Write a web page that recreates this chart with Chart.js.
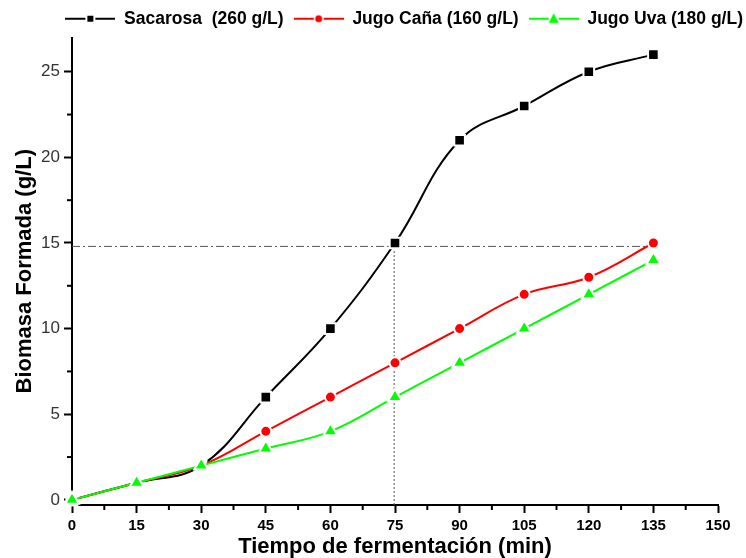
<!DOCTYPE html>
<html>
<head>
<meta charset="utf-8">
<script src="https://cdn.jsdelivr.net/npm/chart.js@4.4.0/dist/chart.umd.min.js"></script>
<style>
  body { margin: 0; background: #fff; }
  #wrap { width: 746px; height: 558px; }
</style>
</head>
<body>
<div id="wrap"><canvas id="myChart" width="746" height="558"></canvas></div>
<script>
'use strict';

// data

let times = [0, 15, 30, 45, 60, 75, 90, 105, 120, 135];
let sacarosa = [0, 1, 2, 6, 10, 15, 21, 23, 25, 26];
let jugoCana = [0, 1, 2, 4, 6, 8, 10, 12, 13, 15];
let jugoUva = [0, 1, 2, 3, 4, 6, 8, 10, 12, 14];

let seriesNames = ['Sacarosa  (260 g/L)', 'Jugo Caña (160 g/L)', 'Jugo Uva (180 g/L)'];

let xTicks = [0, 15, 30, 45, 60, 75, 90, 105, 120, 135, 150];
let xMinorTicks = [7.5, 22.5, 37.5, 52.5, 67.5, 82.5, 97.5, 112.5, 127.5, 142.5];
let yTicks = [0, 5, 10, 15, 20, 25];
let yMinorTicks = [2.5, 7.5, 12.5, 17.5, 22.5];

// dashed guide lines (data space)
let guideHx = [0, 135];
let guideHy = [14.8, 14.8];
let guideVx = [74.8, 74.8];
let guideVy = [-0.3, 15];

// helpers

function toPoints(xs, ys) {
  return xs.map((x, i) => ({ x: x, y: ys[i] }));
}

function makeIcon(color, shape) {
  let c = document.createElement('canvas');
  c.width = 50;
  c.height = 14;
  let g = c.getContext('2d');
  g.strokeStyle = color;
  g.fillStyle = color;
  g.lineWidth = 2;
  g.beginPath();
  g.moveTo(0, 7); g.lineTo(20, 7);
  g.moveTo(30, 7); g.lineTo(50, 7);
  g.stroke();
  g.beginPath();
  if (shape === 'rect') {
    g.rect(22, 4, 6, 6);
  } else if (shape === 'circle') {
    g.arc(25, 7, 3.5, 0, Math.PI * 2);
  } else {
    g.moveTo(25, 1.5); g.lineTo(30, 11); g.lineTo(20, 11); g.closePath();
  }
  g.fill();
  return c;
}

let icons = [makeIcon('#000000', 'rect'), makeIcon('#ff0000', 'circle'), makeIcon('#00ff00', 'triangle')];

let minorTicksPlugin = {
  id: 'minorTicks',
  afterLayout(chart) {
    // legend sits against the right edge of the canvas, not the padded area
    chart.legend.right = chart.width + 7;
  },
  afterDraw(chart) {
    let ctx = chart.ctx;
    let xScale = chart.scales.x;
    let yScale = chart.scales.y;
    ctx.save();
    ctx.strokeStyle = '#000';
    ctx.lineWidth = 2;
    xMinorTicks.forEach(v => {
      let px = xScale.getPixelForValue(v);
      ctx.beginPath();
      ctx.moveTo(px, xScale.top);
      ctx.lineTo(px, xScale.top + 5);
      ctx.stroke();
    });
    yMinorTicks.forEach(v => {
      let py = yScale.getPixelForValue(v);
      ctx.beginPath();
      ctx.moveTo(yScale.right, py);
      ctx.lineTo(yScale.right - 5, py);
      ctx.stroke();
    });
    ctx.restore();
  }
};

// chart

const ctx = document.getElementById('myChart');
const config = {
  type: 'line',
  data: {
    datasets: [
      {
        label: seriesNames[0],
        data: toPoints(times, sacarosa),
        borderColor: '#000000',
        backgroundColor: '#000000',
        borderWidth: 2,
        pointStyle: 'rect',
        pointRadius: 7.5,
        pointBorderColor: '#ffffff',
        pointBorderWidth: 2,
        tension: 0.4,
        order: 3
      },
      {
        label: seriesNames[1],
        data: toPoints(times, jugoCana),
        borderColor: '#ff0000',
        backgroundColor: '#ff0000',
        borderWidth: 2,
        pointStyle: 'circle',
        pointRadius: 5.5,
        pointBorderColor: '#ffffff',
        pointBorderWidth: 2,
        tension: 0.4,
        order: 2
      },
      {
        label: seriesNames[2],
        data: toPoints(times, jugoUva),
        borderColor: '#00ff00',
        backgroundColor: '#00ff00',
        borderWidth: 2,
        pointStyle: 'triangle',
        pointRadius: 8,
        pointBorderColor: '#ffffff',
        pointBorderWidth: 2,
        tension: 0.4,
        order: 1
      },
      {
        label: 'guideH',
        data: toPoints(guideHx, guideHy),
        borderColor: '#555555',
        borderWidth: 1,
        borderDash: [8, 3, 2, 3],
        pointRadius: 0,
        order: 4
      },
      {
        label: 'guideV',
        data: toPoints(guideVx, guideVy),
        borderColor: '#555555',
        borderWidth: 1,
        borderDash: [2, 2],
        pointRadius: 0,
        order: 4
      }
    ]
  },
  options: {
    responsive: false,
    animation: false,
    clip: false,
    layout: {
      padding: { top: 0, right: 28, bottom: 0, left: 0 }
    },
    plugins: {
      tooltip: { enabled: false },
      legend: {
        align: 'end',
        labels: {
          usePointStyle: true,
          pointStyleWidth: 50,
          padding: 10,
          color: '#000',
          font: { family: 'Liberation Sans, Arial, sans-serif', size: 17.5, weight: 'bold' },
          generateLabels: (chart) => seriesNames.map((name, i) => ({
            text: name,
            pointStyle: icons[i],
            fontColor: '#000',
            datasetIndex: i,
            hidden: false,
            lineWidth: 0
          }))
        }
      }
    },
    scales: {
      x: {
        type: 'linear',
        min: 0,
        max: 150,
        afterBuildTicks: (scale) => { scale.ticks = xTicks.map(v => ({ value: v })); },
        afterFit: (scale) => { scale.height = 53; },
        grid: { drawOnChartArea: false, tickLength: 8, tickWidth: 2, tickColor: '#000' },
        border: { color: '#000', width: 2 },
        ticks: {
          color: '#000',
          padding: 4,
          maxRotation: 0,
          font: { family: 'Liberation Sans, Arial, sans-serif', size: 15, weight: 'bold' }
        },
        title: {
          display: true,
          text: 'Tiempo de fermentación (min)',
          color: '#000',
          padding: { top: 0, bottom: 0 },
          font: { family: 'Liberation Sans, Arial, sans-serif', size: 22, weight: 'bold', lineHeight: 1 }
        }
      },
      y: {
        type: 'linear',
        min: -0.3,
        max: 27,
        afterBuildTicks: (scale) => { scale.ticks = yTicks.map(v => ({ value: v })); },
        afterFit: (scale) => { scale.width = 72; },
        grid: { drawOnChartArea: false, tickLength: 8, tickWidth: 2, tickColor: '#000' },
        border: { color: '#000', width: 2 },
        ticks: {
          color: '#333',
          padding: 4,
          font: { family: 'Liberation Sans, Arial, sans-serif', size: 17 }
        },
        title: {
          display: true,
          text: 'Biomasa Formada (g/L)',
          color: '#000',
          padding: { top: 14, bottom: 0 },
          font: { family: 'Liberation Sans, Arial, sans-serif', size: 22, weight: 'bold', lineHeight: 1 }
        }
      }
    }
  },
  plugins: [minorTicksPlugin]
};
new Chart(ctx, config);
</script>
</body>
</html>
